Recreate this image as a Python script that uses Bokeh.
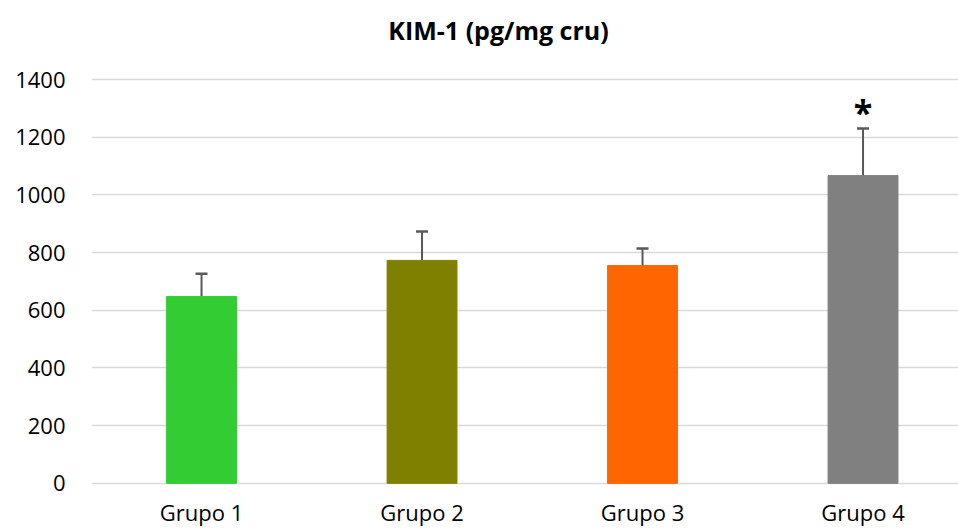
from bokeh.plotting import figure
from bokeh.models import Range1d, FixedTicker, Whisker, TeeHead, ColumnDataSource, Label
from bokeh.core.properties import value
from bokeh.embed import file_html
from bokeh.resources import INLINE

title_text = "KIM-1 (pg/mg cru)"
categories = ["Grupo 1", "Grupo 2", "Grupo 3", "Grupo 4"]
means = [648, 773, 755, 1067]
errors = [79, 100, 59, 163]
colors = ["#33CC33", "#808000", "#FF6600", "#808080"]
marks = ["", "", "", "*"]
y_ticks = [0, 200, 400, 600, 800, 1000, 1200, 1400]

xs = list(range(1, len(categories) + 1))
tops = [m + e for m, e in zip(means, errors)]
src = ColumnDataSource(dict(x=xs, m=means, top=tops, color=colors, mark=marks,
                            cat=categories, zero=[0] * len(xs)))

p = figure(width=958, height=529, output_backend="svg", toolbar_location=None,
           x_range=Range1d(0.501, 4.433), y_range=Range1d(-160, 1674),
           x_axis_location=None,
           min_border_left=91, min_border_right=0, min_border_top=0, min_border_bottom=0)
p.outline_line_color = None
p.background_fill_color = "white"
p.border_fill_color = "white"

p.add_layout(Label(x=407, y=500, x_units="screen", y_units="screen", text=title_text,
                   text_align="center", text_baseline="middle", text_font="Open Sans",
                   text_font_style="bold", text_font_size="25px", text_color="#000000"))

p.vbar(x="x", top="m", width=0.317, bottom=0, color="color", source=src)
w = Whisker(base="x", lower="m", upper="top", source=src, dimension="height",
            line_color="#595959", line_width=2,
            upper_head=TeeHead(size=12, line_color="#595959", line_width=2.5), lower_head=None)
p.add_layout(w)
p.text(x="x", y="top", text="mark", source=src, text_align="center", text_baseline="bottom",
       y_offset=6, text_font=value("Open Sans"), text_font_style="bold",
       text_font_size="34px", text_color="#000000")
p.text(x="x", y="zero", text="cat", source=src, text_align="center", text_baseline="top",
       y_offset=14, text_font=value("Open Sans"), text_font_size="22px", text_color="#000000")

p.yaxis.ticker = FixedTicker(ticks=y_ticks)
p.yaxis.major_tick_line_color = None
p.yaxis.minor_tick_line_color = None
p.yaxis.major_label_text_font = "Open Sans"
p.yaxis.major_label_text_font_size = "22px"
p.yaxis.major_label_text_color = "#000000"
p.yaxis.axis_line_color = None
p.yaxis.major_label_standoff = 20
p.xgrid.grid_line_color = None
p.ygrid.ticker = FixedTicker(ticks=y_ticks)
p.ygrid.grid_line_color = "#D9D9D9"
p.ygrid.grid_line_width = 1.5

open("out.html", "w").write(file_html(p, INLINE))
